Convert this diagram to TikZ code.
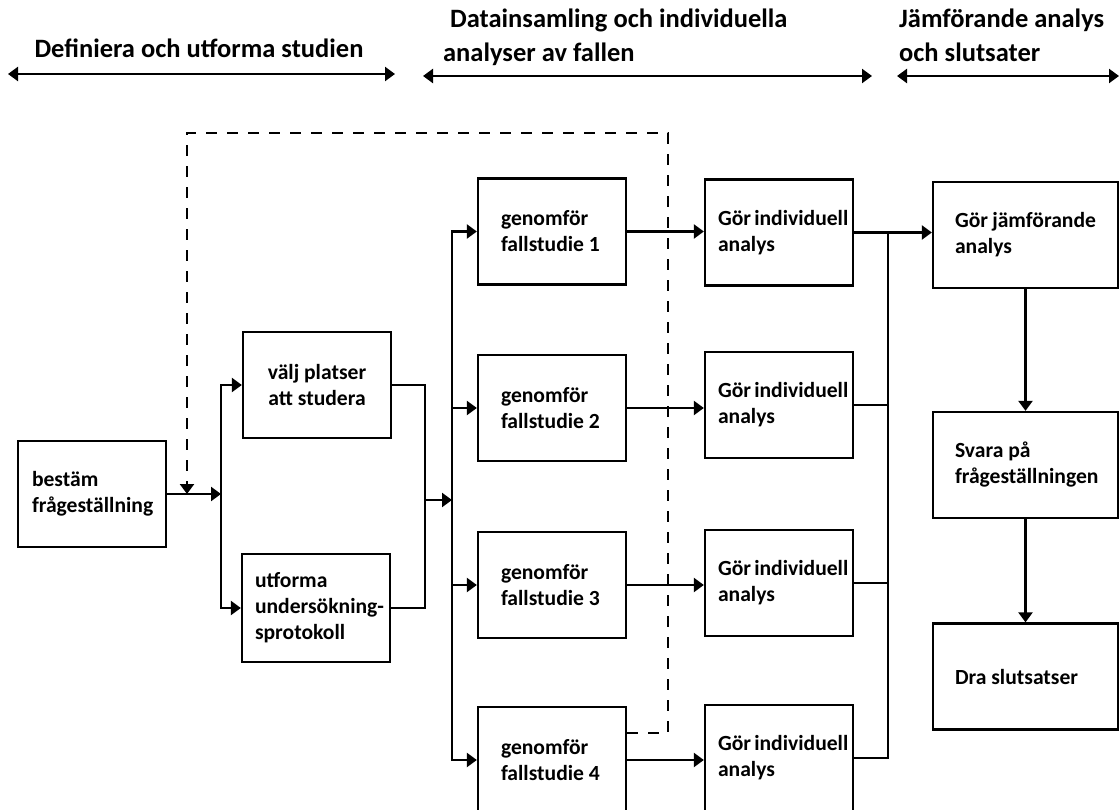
\documentclass[tikz,border=0pt]{standalone}
\usepackage{fontspec}
\setmainfont{Carlito}
\usetikzlibrary{arrows.meta}
\hyphenpenalty=10000
\exhyphenpenalty=10000
\begin{document}
\begin{tikzpicture}[x=1pt,y=-1pt,line width=2.3pt,>={Triangle[length=10pt,width=14pt]},
    box/.style 2 args={draw,text width=#1,inner xsep=#2,inner ysep=0pt,minimum height=106pt,align=flush left,
        font=\fontsize{21.6}{26}\selectfont\bfseries},
    head/.style={inner sep=0pt,align=flush left,font=\fontsize{26.5}{34}\selectfont\bfseries},
    fb/.style={dash pattern=on 11pt off 10pt}]
\useasboundingbox (0,0) rectangle (1119,810);
\node[head,anchor=base] (h1) at (199,58) {Definiera och utforma studien};
\node[head,anchor=base west] (h2) at (442,62) {\hspace*{7pt}Datainsamling och individuella\\analyser av fallen};
\node[head,anchor=base west] (h3) at (898,62) {Jämförande analys\\och slutsater};
\draw[<->] (8,74)--(395,74);
\draw[<->] (423,76)--(872,76);
\draw[<->] (897,76)--(1119,76);
\node[box={120pt}{14pt}] (best) at (92,494) {bestäm\\frågeställning};
\node[box={120pt}{14pt},align=flush center] (valj) at (317,385) {välj~platser\\att~studera};
\node[box={122pt}{13pt},minimum height=108pt] (utf) at (316,608) {utforma\\undersökning-\\sprotokoll};
\foreach \i/\y in {1/231.5,2/408,3/585,4/760}
  \node[box={102pt}{23pt}] (gen\i) at (552,\y) {genomför\\fallstudie~\i};
\foreach \i/\y in {1/232.5,2/405,3/583,4/758}
  \node[box={122pt}{13pt}] (gor\i) at (779,\y) {Gör~individuell\\analys};
\node[box={141pt}{22pt}] (jamf) at (1025.5,235) {Gör~jämförande\\analys};
\node[box={141pt}{22pt}] (svara) at (1025.5,465) {Svara~på\\frågeställningen};
\node[box={141pt}{22pt}] (dra) at (1025.5,676.5) {Dra~slutsatser};
\coordinate (sp1) at (221,494);
\coordinate (mg1) at (425,500);
\coordinate (sp2) at (452,500);
\coordinate (mg2) at (888,232.5);
\draw[->] (best.east)--(sp1);
\draw[->] (sp1)|-(valj.west);
\draw[->] (sp1)|-(utf.west);
\draw (valj.east)-|(mg1)|-(utf.east);
\draw[->] (mg1)--(sp2);
\foreach \i in {1,...,4}{
  \draw[->] (sp2)|-(gen\i.west);
  \draw[->] (gen\i.east)--(gen\i.east-|gor\i.west);
  \draw (gor\i.east)-|(mg2);
}
\draw[->] (mg2)--(mg2-|jamf.west);
\draw[->] (jamf)--(svara);
\draw[->] (svara)--(dra);
\coordinate (d1) at (668,133);
\coordinate (d2) at (187,133);
\draw[fb,->] (gen4.east|-0,733)-|(d1)--(d2)--(d2|-sp1);
\end{tikzpicture}
\end{document}
